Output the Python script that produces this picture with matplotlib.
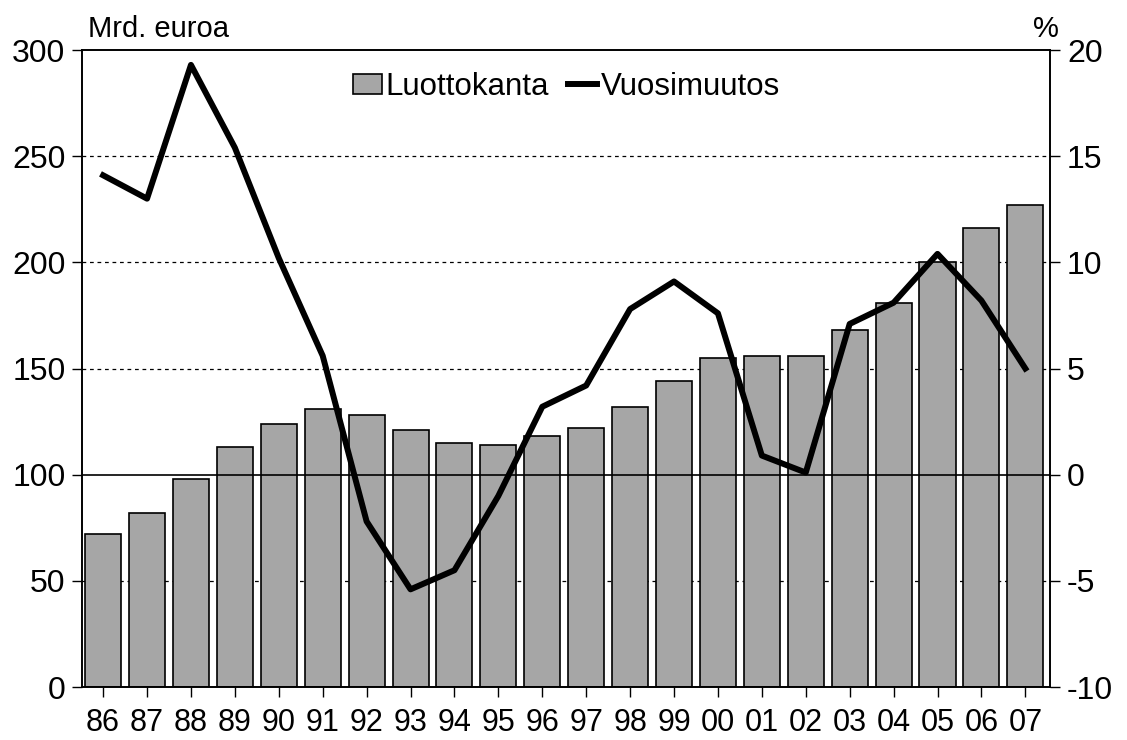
import matplotlib.pyplot as plt
import numpy as np

years = ["86", "87", "88", "89", "90", "91", "92", "93", "94", "95", "96",
         "97", "98", "99", "00", "01", "02", "03", "04", "05", "06", "07"]
luottokanta = [72, 82, 98, 113, 124, 131, 128, 121, 115, 114, 118,
               122, 132, 144, 155, 156, 156, 168, 181, 200, 216, 227]
vuosimuutos = [14.1, 13.0, 19.3, 15.4, 10.2, 5.6, -2.2, -5.4, -4.5, -1.0, 3.2,
               4.2, 7.8, 9.1, 7.6, 0.9, 0.1, 7.1, 8.1, 10.4, 8.2, 5.0]

plt.rcParams["font.family"] = ["Liberation Sans", "DejaVu Sans"]
plt.rcParams["axes.unicode_minus"] = False

fig = plt.figure(figsize=(11.27, 7.40), dpi=100)
ax = fig.add_axes([0.0728, 0.0716, 0.8592, 0.8608])
ax2 = ax.twinx()

x = np.arange(len(years))
ax.bar(x, luottokanta, width=0.82, color="#a6a6a6", edgecolor="black",
       linewidth=1.2, zorder=2, label="Luottokanta")
for v in [50, 150, 200, 250]:
    ax.axhline(v, color="black", linestyle=(0, (3, 3)), linewidth=0.9, zorder=1)
ax.axhline(100, color="black", linewidth=1.2, zorder=3)

ax.set_xlim(-0.48, 21.57)
ax.set_ylim(0, 300)
ax.set_yticks(range(0, 301, 50))
ax.set_xticks(x)
ax.set_xticklabels(years)

ax2.plot(x, vuosimuutos, color="black", linewidth=4.3, zorder=4,
         label="Vuosimuutos")
ax2.set_ylim(-10, 20)
ax2.set_yticks(range(-10, 21, 5))

for a in (ax, ax2):
    a.tick_params(axis="both", labelsize=23, direction="out", length=7,
                  width=1, pad=5)
    for s in a.spines.values():
        s.set_linewidth(1.2)
ax.tick_params(axis="x", labelsize=22, pad=8)

ax.set_zorder(ax2.get_zorder() - 1)
ax2.patch.set_visible(False)

fig.text(0.078, 0.95, "Mrd. euroa", fontsize=21)
fig.text(0.917, 0.95, "%", fontsize=21)

h1, l1 = ax.get_legend_handles_labels()
h2, l2 = ax2.get_legend_handles_labels()
ax2.legend(h1 + h2, l1 + l2, loc="upper center", bbox_to_anchor=(0.5, 1.01),
           ncol=2, frameon=False, fontsize=22.5, handlelength=0.95,
           handleheight=0.6, handletextpad=0.1, columnspacing=0.6)

fig.savefig("out.png", dpi=100)
